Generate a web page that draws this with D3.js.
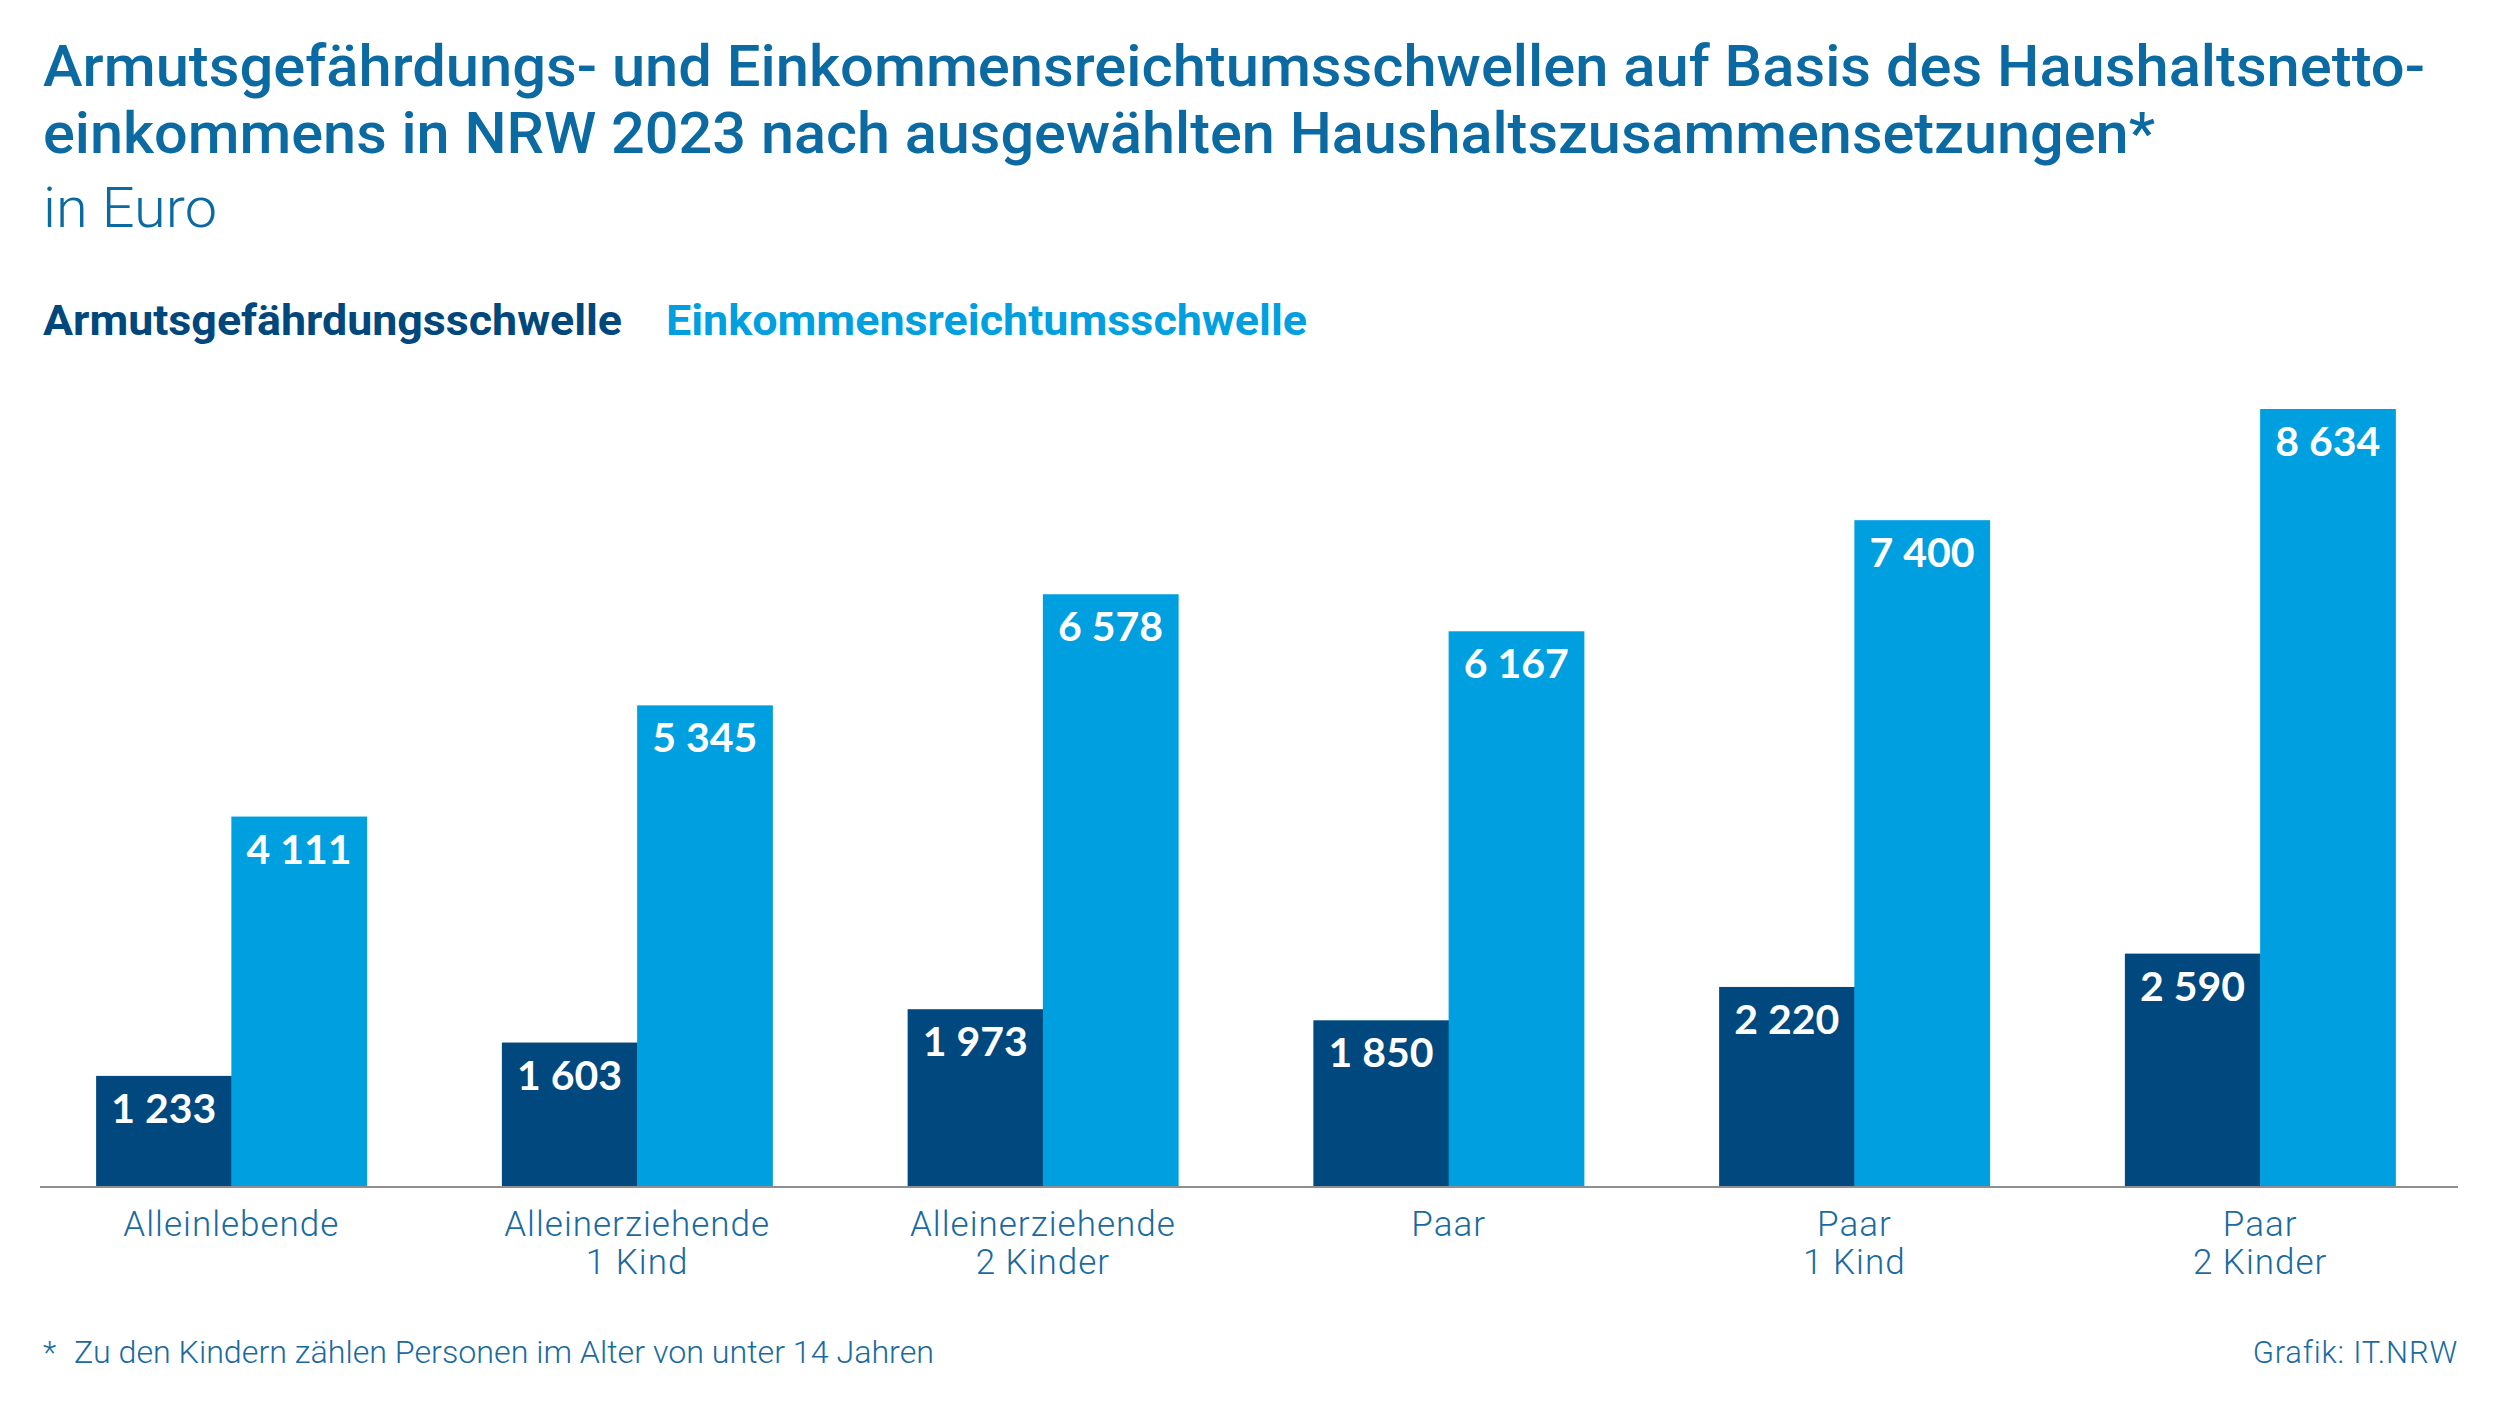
<!DOCTYPE html>
<html><head><meta charset="utf-8">
<script src="https://cdn.jsdelivr.net/npm/d3@7"></script>
<style>html,body{margin:0;padding:0;background:#fff}svg{display:block}</style>
</head><body>
<svg id="chart" width="2500" height="1406"></svg>
<script>
const categories = [["Alleinlebende"],["Alleinerziehende","1 Kind"],["Alleinerziehende","2 Kinder"],["Paar"],["Paar","1 Kind"],["Paar","2 Kinder"]];
const seriesNames = ["Armutsgefährdungsschwelle","Einkommensreichtumsschwelle"];
const armut = [1233,1603,1973,1850,2220,2590];
const reichtum = [4111,5345,6578,6167,7400,8634];
const titleLines = ["Armutsgefährdungs- und Einkommensreichtumsschwellen auf Basis des Haushaltsnetto-","einkommens in NRW 2023 nach ausgewählten Haushaltszusammensetzungen*"];
const subtitle = "in Euro";
const footStar = "*";
const footnote = "Zu den Kindern zählen Personen im Alter von unter 14 Jahren";
const source = "Grafik: IT.NRW";

const colors = ["#00487d","#009fe0"];
const svg = d3.select("#chart");
const fmt = d3.formatLocale({decimal:",",thousands:" ",grouping:[3],currency:["","€"]}).format(",d");

function fit(sel, w){ sel.each(function(){ const l=this.getComputedTextLength(); if(Math.abs(l-w)>2){ d3.select(this).attr("textLength",w).attr("lengthAdjust","spacingAndGlyphs"); } }); }

// Title
const tw=[2382,2112];
titleLines.forEach((t,i)=>{
  svg.append("text").attr("x",43).attr("y",86+i*67).attr("fill","#0a6aa1")
    .style("font-family","Roboto").style("font-weight",500).style("font-size","57px").text(t).call(fit,tw[i]);
});
svg.append("text").attr("x",43).attr("y",227).attr("fill","#0a6aa1")
  .style("font-family","Roboto").style("font-weight",300).style("font-size","55px").text(subtitle).call(fit,174);

// Legend
const legX=[43,666], legW=[579,641];
seriesNames.forEach((s,i)=>{
  svg.append("text").attr("x",legX[i]).attr("y",335).attr("fill",i===0?"#00477c":"#009fe0")
    .style("font-family","Roboto").style("font-weight",700).style("font-size","42px").text(s).call(fit,legW[i]);
});

// Scales
const x0 = d3.scaleBand().domain(d3.range(categories.length)).range([28.5,2463]).paddingInner(1/3).paddingOuter(1/6);
const x1 = d3.scaleBand().domain([0,1]).range([0,x0.bandwidth()]);
const y = d3.scaleLinear().domain([0,9000]).range([1187,376]);

const data = categories.map((c,i)=>({i, vals:[armut[i],reichtum[i]]}));
const g = svg.append("g");
const grp = g.selectAll("g.grp").data(data).join("g").attr("transform",d=>`translate(${x0(d.i)},0)`);
grp.selectAll("rect").data(d=>d.vals.map((v,k)=>({v,k}))).join("rect")
  .attr("x",d=>x1(d.k)).attr("width",x1.bandwidth()+0.5)
  .attr("y",d=>y(d.v)).attr("height",d=>y(0)-y(d.v)).attr("fill",d=>colors[d.k]);
grp.selectAll("text.val").data(d=>d.vals.map((v,k)=>({v,k}))).join("text").attr("class","val")
  .attr("x",d=>x1(d.k)+x1.bandwidth()/2).attr("y",d=>y(d.v)+47).attr("text-anchor","middle")
  .attr("fill","#fff").style("font-family","Lato").style("font-weight",700).style("font-size","41px")
  .text(d=>fmt(d.v));

// Axis baseline
const axis = svg.append("g").attr("transform",`translate(0,${y(0)})`)
  .call(d3.axisBottom(x0).tickSize(0).tickFormat(""));
axis.select(".domain").attr("d","M40,0H2458").attr("stroke","#8f8f8f").attr("stroke-width",2);

// Category labels
categories.forEach((c,i)=>{
  const t = svg.append("text").attr("x",x0(i)+x0.bandwidth()/2).attr("y",1236).attr("text-anchor","middle")
    .attr("fill","#1a6aa0").style("font-family","Roboto").style("font-weight",300).style("font-size","35px")
    .style("letter-spacing","1px");
  c.forEach((line,j)=>t.append("tspan").attr("x",x0(i)+x0.bandwidth()/2).attr("dy",j===0?0:38).text(line));
});

// Footer
svg.append("text").attr("x",43).attr("y",1363).attr("fill","#1a6aa0")
  .style("font-family","Roboto").style("font-weight",300).style("font-size","31px").text(footStar);
svg.append("text").attr("x",74).attr("y",1363).attr("fill","#1a6aa0")
  .style("font-family","Roboto").style("font-weight",300).style("font-size","31px").text(footnote).call(fit,860);
svg.append("text").attr("x",2458).attr("y",1363).attr("text-anchor","end").attr("fill","#1a6aa0")
  .style("font-family","Roboto").style("font-weight",300).style("font-size","31px").style("letter-spacing","0.8px").text(source);
</script>
</body></html>
